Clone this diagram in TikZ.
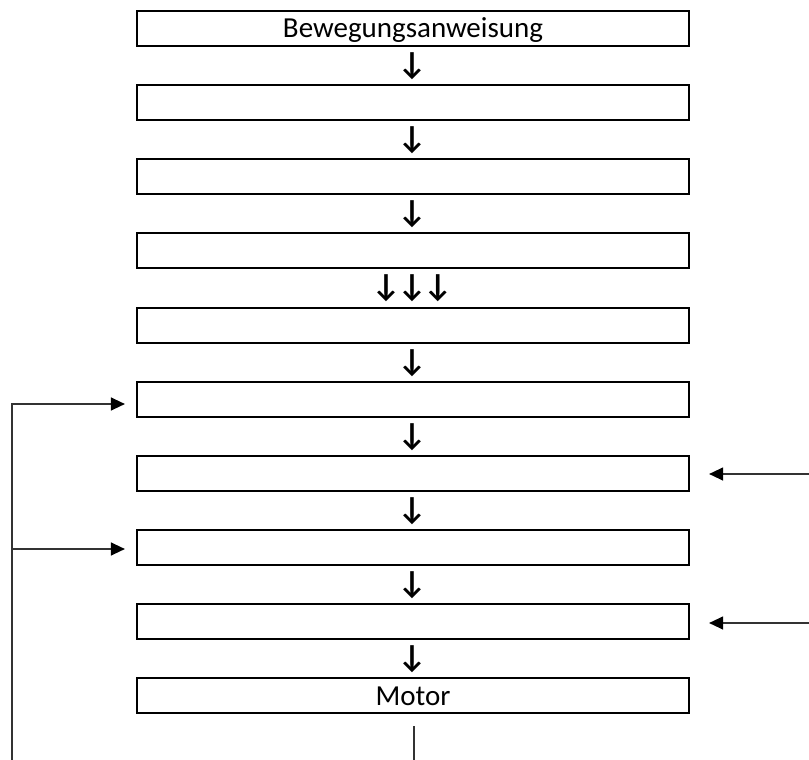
\documentclass[tikz,border=0pt]{standalone}
\usepackage{fontspec}
\setmainfont{Carlito}
\usetikzlibrary{arrows.meta}
\begin{document}
\begin{tikzpicture}[x=1pt,y=-1pt,
  box/.style={draw=black,line width=2.2pt,minimum width=552pt,minimum height=35pt,inner sep=0pt,text height=19pt,text depth=0pt,font=\fontsize{29}{29}\selectfont},
  dn/.style={inner sep=0pt,font=\fontsize{32}{32}\selectfont\bfseries},
  fb/.style={draw=black!80,line width=1.3pt,-{Triangle[length=14pt,width=13pt,color=black]}}]
\useasboundingbox (0,0) rectangle (809,760);
\node[box] (b1) at (413,28.5) {Bewegungsanweisung};
\node[box] (b2) at (413,102.5) {};
\node[box] (b3) at (413,176.5) {};
\node[box] (b4) at (413,250.5) {};
\node[box] (b5) at (413,325.5) {};
\node[box] (b6) at (413,399.5) {};
\node[box] (b7) at (413,473.5) {};
\node[box] (b8) at (413,547.5) {};
\node[box] (b9) at (413,621.5) {};
\node[box] (b10) at (413,695.5) {Motor};
\node[dn] (a1) at (412,66) {↓};
\node[dn] (a2) at (412,140.5) {↓};
\node[dn] (a3) at (412,214.5) {↓};
\node[dn] (a4) at (412,288.5) {↓\kern-3pt↓\kern-3pt↓};
\node[dn] (a5) at (412,363) {↓};
\node[dn] (a6) at (412,437) {↓};
\node[dn] (a7) at (412,511) {↓};
\node[dn] (a8) at (412,585) {↓};
\node[dn] (a9) at (412,659) {↓};
\coordinate (fl) at (12,760);
\coordinate (r1) at (809,474);
\coordinate (r2) at (809,623);
\coordinate (m) at (414,760);
\draw[fb,shorten >=11pt] (fl) |- ([yshift=-4.5pt]b6.west);
\draw[fb,shorten >=11pt] (fl) |- ([yshift=-1.5pt]b8.west);
\draw[fb,shorten >=19pt] (r1) -- (b7.east |- r1);
\draw[fb,shorten >=19pt] (r2) -- (b9.east |- r2);
\draw[draw=black!80,line width=1.3pt] ([xshift=1pt,yshift=-12pt]b10.south) -- (m);
\end{tikzpicture}
\end{document}
